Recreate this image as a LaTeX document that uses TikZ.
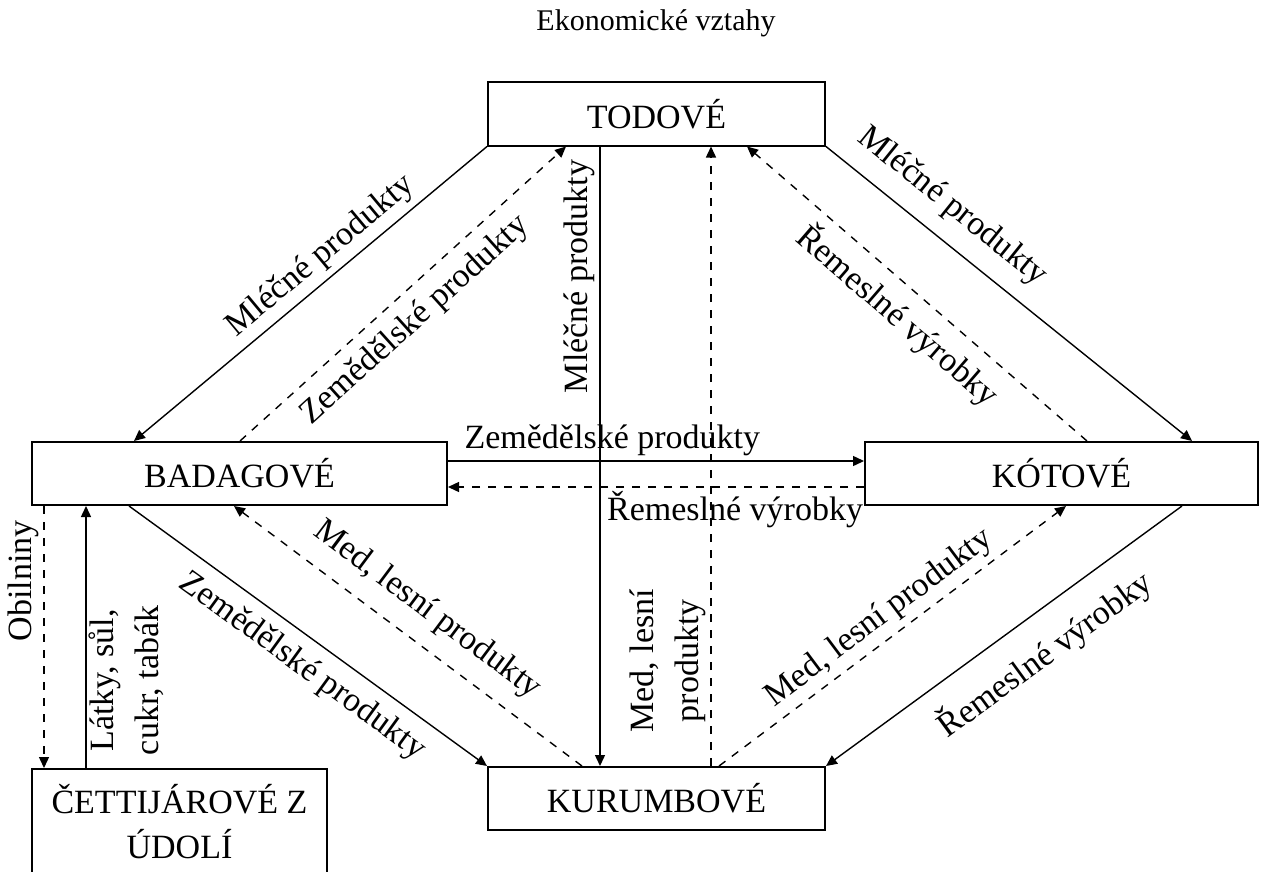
\documentclass[tikz,border=0pt]{standalone}
\usepackage{fontspec}
\setmainfont{Liberation Serif}
\usetikzlibrary{arrows.meta}

\begin{document}
\begin{tikzpicture}[
    x=0.5pt, y=-0.5pt,
    font=\fontsize{17}{22.5}\selectfont,
    box/.style={
        draw,
        line width=1pt,
        minimum height=31.5pt,
        align=center,
        inner sep=2pt
    },
    arr/.style={-{Triangle[length=5.5pt,width=5pt]}, line width=0.7pt},
    darr/.style={arr, dash pattern=on 4pt off 4pt},
    lbl/.style={inner sep=2pt, align=center}
]

\useasboundingbox (0,0) rectangle (1284,872);
\clip (0,0) rectangle (1284,872);

\node (title) at (656,23) {\fontsize{15}{18}\selectfont Ekonomické vztahy};

\node[box, minimum width=168.5pt] (todo) at (656.5,114) {TODOVÉ};
\node[box, minimum width=207.5pt] (badag) at (239.5,473.5) {BADAGOVÉ};
\node[box, minimum width=196.5pt] (koto) at (1061.5,473.5) {KÓTOVÉ};
\node[box, minimum width=168.5pt] (kurum) at (656.5,798.5) {KURUMBOVÉ};
\node[box, minimum width=147.5pt, minimum height=53pt, anchor=north] (cetti) at (179.5,768)
    {ČETTIJÁROVÉ Z\\ÚDOLÍ};

\draw[arr] (todo.south west) -- ([xshift=51.5pt]badag.north west)
    node[lbl, sloped, above=1pt, pos=0.43] {Mléčné produkty};
\draw[darr] ([xshift=104.5pt]badag.north west) -- ([xshift=39.5pt]todo.south west)
    node[lbl, sloped, below=4pt, pos=0.48] {Zemědělské produkty};
\draw[arr] ([xshift=56.5pt]todo.south west) -- ([xshift=56.5pt]kurum.north west)
    node[lbl, rotate=90, above, pos=0.21] {Mléčné produkty};
\draw[darr] ([xshift=112pt]kurum.north west) -- ([xshift=112pt]todo.south west)
    node[lbl, rotate=90, above, pos=0.17] {Med, lesní\\produkty};
\draw[darr] ([xshift=111.5pt]koto.north west) -- ([xshift=130pt]todo.south west)
    node[lbl, sloped, below=3pt, pos=0.5] {Řemeslné výrobky};
\draw[arr] (todo.south east) -- ([xshift=164pt]koto.north west)
    node[lbl, sloped, above=6pt, pos=0.29] {Mléčné produkty};

\draw[arr] ([yshift=-10pt]badag.north east) -- ([yshift=-10pt]koto.north west)
    node[lbl, above, pos=0.395] {Zemědělské produkty};
\draw[darr] ([yshift=-23pt]koto.north west) -- ([yshift=-23pt]badag.north east)
    node[lbl, below, pos=0.31] {Řemeslné výrobky};

\draw[darr] ([xshift=47.5pt]kurum.north west) -- ([xshift=101.5pt]badag.south west)
    node[lbl, sloped, above=6pt, pos=0.5] {Med, lesní produkty};
\draw[arr] ([xshift=49pt]badag.south west) -- (kurum.north west)
    node[lbl, sloped, below=4pt, pos=0.53] {Zemědělské produkty};
\draw[darr] ([xshift=116pt]kurum.north west) -- ([xshift=101pt]koto.south west)
    node[lbl, sloped, above=1pt, pos=0.5] {Med, lesní produkty};
\draw[arr] ([xshift=159pt]koto.south west) -- (kurum.north east)
    node[lbl, sloped, below=8pt, pos=0.45] {Řemeslné výrobky};

\draw[darr] ([xshift=6.5pt]badag.south west) -- ([xshift=6.5pt]cetti.north west)
    node[lbl, rotate=90, above, pos=0.285] {Obilniny};
\draw[arr] ([xshift=27.5pt]cetti.north west) -- ([xshift=27.5pt]badag.south west)
    node[lbl, rotate=90, below, inner sep=1pt, pos=0.335] {Látky, sůl,\\cukr, tabák};

\end{tikzpicture}
\end{document}
